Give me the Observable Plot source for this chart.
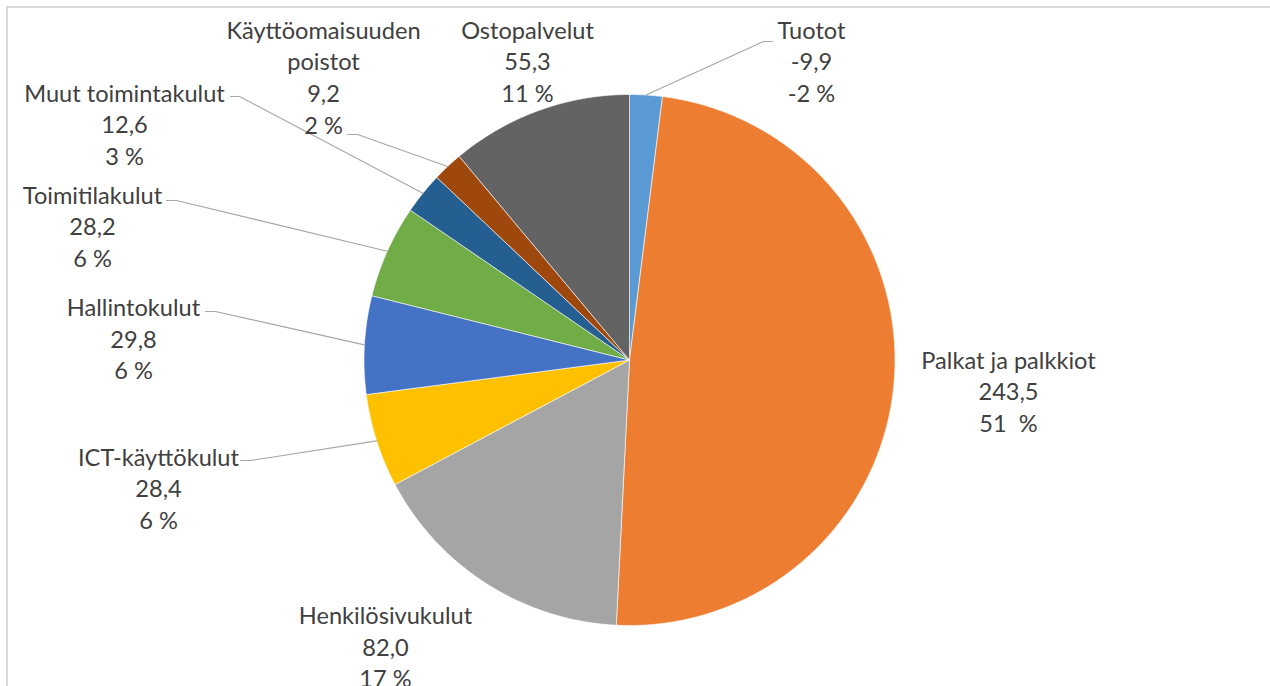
<!DOCTYPE html>
<html><head><meta charset="utf-8">
<script src="https://cdn.jsdelivr.net/npm/d3@7"></script>
<script src="https://cdn.jsdelivr.net/npm/@observablehq/plot@0.6"></script>
<style>
body{margin:0;background:#fff;}
#wrap{position:relative;width:1270px;height:686px;overflow:hidden;background:#fff;}
#frame{position:absolute;left:6px;top:6px;width:1300px;height:700px;border-top:2px solid #d9d9d9;border-left:2px solid #d9d9d9;}
#chart{position:absolute;left:0;top:0;}
</style></head><body>
<div id="wrap"><div id="frame"></div><div id="chart"></div></div>
<script>
// ---- data ----
const categories = ["Tuotot","Palkat ja palkkiot","Henkilösivukulut","ICT-käyttökulut","Hallintokulut","Toimitilakulut","Muut toimintakulut","Käyttöomaisuuden\npoistot","Ostopalvelut"];
const values = [-9.9, 243.5, 82.0, 28.4, 29.8, 28.2, 12.6, 9.2, 55.3];
const percentLabels = ["-2 %", "51 \u00a0%", "17 %", "6 %", "6 %", "6 %", "3 %", "2 %", "11 %"];
const colors = ["#5b9bd5","#ed7d31","#a5a5a5","#ffc000","#4472c4","#70ad47","#255e91","#9e480e","#636363"];

// ---- layout (pixels) ----
const W = 1270, H = 686, CX = 629, CY = 359.5, R = 265.5;
// label block centres and leader stubs (label side), in pixels
const labelCX = [811, 1008, 385, 158, 133, 92, 124, 323, 527];
const labelCY = [59.5, 389.5, 645, 486.5, 337, 224.5, 122.5, 75.5, 59.5];
const leaderStub = [
  [[772,41],[763,41]],
  null, null,
  [[240,460],[250,460]],
  [[205,311],[215,311]],
  [[166,200],[176,200]],
  [[230,96],[239,96]],
  [[347,134],[357,134]],
  null
];

const toX = px => (px - CX) / R;
const toY = py => (CY - py) / R;

const items = categories.map((name, i) => ({name, value: values[i], pct: percentLabels[i], i}));
const arcs = d3.pie().sort(null).value(d => Math.abs(d.value)).startAngle(0).endAngle(2 * Math.PI)(items);

// slice outlines (unit circle)
const slicePts = [];
for (const a of arcs) {
  const name = a.data.name;
  slicePts.push({name, x: 0, y: 0});
  const n = Math.max(2, Math.ceil((a.endAngle - a.startAngle) / (Math.PI / 360)));
  for (let k = 0; k <= n; k++) {
    const t = a.startAngle + (a.endAngle - a.startAngle) * k / n;
    slicePts.push({name, x: Math.sin(t), y: Math.cos(t)});
  }
  slicePts.push({name, x: 0, y: 0});
}

// leader lines
const leaderPts = [];
arcs.forEach((a, i) => {
  const stub = leaderStub[i];
  if (!stub) return;
  const m = (a.startAngle + a.endAngle) / 2;
  const name = a.data.name;
  leaderPts.push({name, x: toX(stub[0][0]), y: toY(stub[0][1])});
  leaderPts.push({name, x: toX(stub[1][0]), y: toY(stub[1][1])});
  leaderPts.push({name, x: Math.sin(m), y: Math.cos(m)});
});

const fmt = v => v.toFixed(1).replace(".", ",");
const labels = items.map((d, i) => ({
  x: toX(labelCX[i]), y: toY(labelCY[i]),
  text: d.name + "\n" + fmt(d.value) + "\n" + d.pct
}));

const chart = Plot.plot({
  width: W, height: H,
  margin: 0,
  x: {domain: [toX(0), toX(W)], range: [0, W], axis: null},
  y: {domain: [toY(H), toY(0)], range: [H, 0], axis: null},
  color: {type: "ordinal", domain: categories, range: colors},
  style: {background: "transparent", fontFamily: "Lato, 'Open Sans', sans-serif"},
  marks: [
    Plot.line(slicePts, {x: "x", y: "y", z: "name", fill: "name", stroke: "white", strokeWidth: 0.6, curve: "linear"}),
    Plot.line(leaderPts, {x: "x", y: "y", z: "name", stroke: "#a6a6a6", strokeWidth: 1.1, curve: "linear"}),
    Plot.text(labels, {x: "x", y: "y", text: "text", fontSize: 23.6, fill: "#404040", lineHeight: 1.34, lineAnchor: "middle", textAnchor: "middle", fontFamily: "Lato"})
  ]
});
document.getElementById("chart").appendChild(chart);
</script>
</body></html>
